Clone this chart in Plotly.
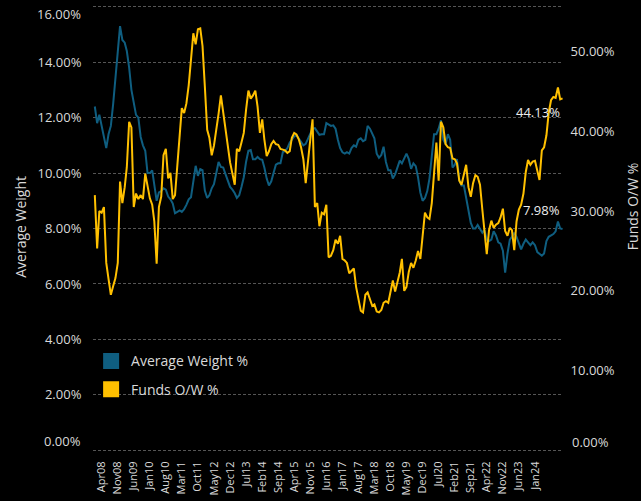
import pandas as pd
import plotly.graph_objects as go

# Monthly dates, Jan 2008 .. Jan 2025
dates = pd.date_range("2008-01-01", "2025-01-01", freq="MS")

avg_weight = [
    12.4, 11.8, 12.1, 11.7, 11.3, 10.9, 11.4, 11.7, 12.5, 13.5,
    14.4, 15.3, 14.8, 14.7, 14.4, 13.8, 13.0, 12.5, 12.1, 12.0,
    11.3, 11.0, 10.8, 10.0, 10.0, 10.1, 9.5, 9.0, 9.3, 9.35,
    9.45, 9.4, 9.15, 9.05, 8.9, 8.55, 8.6, 8.65, 8.6, 8.7,
    8.85, 9.05, 9.13, 9.7, 10.26, 9.9, 10.14, 10.1, 9.37, 9.1,
    9.2, 9.45, 9.6, 10.0, 10.4, 10.22, 10.2, 9.96, 9.7, 9.5,
    9.4, 9.27, 9.1, 9.2, 9.5, 9.85, 10.4, 10.8, 10.83, 10.5,
    10.5, 10.58, 10.5, 10.48, 10.2, 9.8, 9.55, 9.7, 10.0, 10.3,
    10.35, 10.35, 10.75, 10.8, 10.9, 11.1, 11.2, 11.32, 11.37, 11.25,
    11.1, 11.0, 11.05, 11.25, 11.45, 11.6, 11.62, 11.5, 11.38, 11.4,
    11.4, 11.8, 11.75, 11.7, 11.72, 11.6, 11.2, 10.9, 10.75, 10.7,
    10.75, 10.7, 10.9, 11.0, 10.95, 11.2, 11.25, 11.15, 11.2, 11.7,
    11.6, 11.4, 11.25, 10.7, 10.55, 10.65, 10.95, 10.4, 10.1, 10.1,
    9.8, 9.95, 10.25, 10.45, 10.35, 10.5, 10.7, 10.5, 10.15, 10.35,
    10.25, 9.85, 9.3, 9.0, 9.1, 9.35, 9.8, 10.6, 11.4, 11.4,
    11.6, 11.9, 11.2, 11.05, 11.4, 11.2, 10.2, 10.3, 10.5, 9.75,
    9.55, 9.55, 9.1, 8.6, 8.2, 8.0, 8.0, 8.13, 8.0, 7.85,
    7.95, 7.6, 7.55, 7.6, 7.9, 7.75, 7.5, 7.45, 7.2, 6.41,
    7.1, 7.6, 7.7, 7.85, 7.7, 7.5, 7.25, 7.45, 7.6, 7.5,
    7.4, 7.5, 7.4, 7.15, 7.1, 7.02, 7.1, 7.55, 7.7, 7.75,
    7.8, 7.9, 8.25, 8.0, 7.98,
]

funds_ow = [
    32.0, 25.3, 30.0, 29.8, 30.5, 23.5, 21.5, 19.5, 20.6, 21.6,
    23.5, 33.7, 31.0, 33.0, 35.5, 41.2, 40.5, 30.5, 32.2, 31.5,
    32.0, 31.5, 34.7, 33.0, 31.6, 30.8, 28.7, 23.4, 30.5, 31.8,
    37.0, 37.8, 34.1, 34.8, 31.5, 32.0, 35.7, 39.5, 42.9, 42.3,
    43.5, 45.8, 49.2, 52.3, 50.9, 52.8, 52.9, 50.7, 45.6, 40.2,
    39.2, 37.0, 38.2, 40.6, 42.2, 44.5, 42.3, 40.2, 37.8, 36.1,
    34.7, 33.3, 37.8, 37.5, 38.6, 39.8, 42.7, 45.1, 44.1, 44.5,
    45.1, 43.1, 39.8, 41.5, 39.0, 36.9, 37.5, 38.4, 38.8, 38.4,
    38.3, 37.8, 37.7, 37.6, 37.3, 37.5, 39.2, 39.8, 39.6, 39.0,
    38.0, 36.5, 33.5, 36.5, 39.0, 41.5, 30.5, 31.0, 28.1, 29.8,
    29.6, 30.8, 24.2, 24.4, 25.1, 26.4, 25.9, 26.9, 24.0, 23.8,
    23.5, 22.2, 22.5, 22.8, 20.5, 18.9, 17.5, 17.3, 19.5, 19.8,
    18.8, 18.1, 18.3, 17.4, 17.3, 17.6, 18.5, 18.7, 18.5, 20.0,
    21.3, 19.9, 21.2, 22.3, 24.0, 20.0, 20.5, 22.4, 23.5, 22.9,
    23.8, 25.0, 24.0, 27.0, 29.8, 29.2, 29.0, 31.0, 35.0, 38.6,
    33.8, 41.2, 40.5, 38.4, 38.0, 37.9, 36.6, 36.5, 36.0, 33.8,
    33.3, 34.4, 35.8, 33.0, 31.8, 33.5, 34.5, 34.3, 33.3, 30.2,
    27.5, 24.6, 27.6, 28.8, 27.9, 28.3, 28.5, 29.2, 30.3, 27.5,
    26.9, 27.9, 27.6, 25.1, 28.7, 30.2, 30.8, 32.2, 34.9, 36.4,
    35.8, 36.2, 36.3, 35.2, 33.9, 37.6, 38.0, 39.5, 42.3, 43.9,
    44.3, 44.2, 45.5, 44.0, 44.13,
]

tick_labels = [
    "Apr08", "Nov08", "Jun09", "Jan10", "Aug10", "Mar11", "Oct11", "May12",
    "Dec12", "Jul13", "Feb14", "Sep14", "Apr15", "Nov15", "Jun16", "Jan17",
    "Aug17", "Mar18", "Oct18", "May19", "Dec19", "Jul20", "Feb21", "Sep21",
    "Apr22", "Nov22", "Jun23", "Jan24",
]
tick_vals = list(dates[3::7])[: len(tick_labels)]

left_ticks = [0, 2, 4, 6, 8, 10, 12, 14, 16]
right_ticks = [0, 10, 20, 30, 40, 50]

BLUE = "#0F5E80"
GOLD = "#FFC000"
TXT = "#D9D9D9"
FONT = "Open Sans"


def pct(v):
    return f"{v:.2f}%"


fig = go.Figure()
fig.add_trace(go.Scatter(x=dates, y=avg_weight, mode="lines", name="Average Weight %",
                         line=dict(color=BLUE, width=2), yaxis="y", showlegend=False))
fig.add_trace(go.Scatter(x=dates, y=funds_ow, mode="lines", name="Funds O/W %",
                         line=dict(color=GOLD, width=2), yaxis="y2", showlegend=False))
# legend proxies (square swatches)
fig.add_trace(go.Scatter(x=[None], y=[None], mode="markers", name="Average Weight %",
                         marker=dict(symbol="square", size=16, color=BLUE),
                         legendgroup="a", showlegend=True))
fig.add_trace(go.Scatter(x=[None], y=[None], mode="markers", name="Funds O/W %",
                         marker=dict(symbol="square", size=16, color=GOLD),
                         legendgroup="b", showlegend=True))

# last-value labels
fig.add_annotation(x=dates[-1], y=avg_weight[-1], yref="y", xref="x",
                   text=pct(avg_weight[-1]), showarrow=False,
                   xanchor="right", yanchor="middle", xshift=-1, yshift=19,
                   font=dict(family=FONT, size=13, color="#EDEDED"))
fig.add_annotation(x=dates[-1], y=funds_ow[-1], yref="y2", xref="x",
                   text=pct(funds_ow[-1]), showarrow=False,
                   xanchor="right", yanchor="middle", xshift=-1, yshift=-14,
                   font=dict(family=FONT, size=13, color="#EDEDED"))

# edge tick labels sit slightly inside their gridlines
tick_font = dict(family=FONT, size=13, color=TXT)
fig.add_annotation(x=0, y=left_ticks[-1], xref="paper", yref="y", text=pct(left_ticks[-1]),
                   showarrow=False, xanchor="right", yanchor="middle",
                   xshift=-10, yshift=-7, font=tick_font)
fig.add_annotation(x=0, y=left_ticks[0], xref="paper", yref="y", text=pct(left_ticks[0]),
                   showarrow=False, xanchor="right", yanchor="middle",
                   xshift=-10, yshift=9, font=tick_font)
fig.add_annotation(x=1, y=right_ticks[0], xref="paper", yref="y2", text=pct(right_ticks[0]),
                   showarrow=False, xanchor="left", yanchor="middle",
                   xshift=7, yshift=8, font=tick_font)

# axis titles
fig.add_annotation(x=-0.153, y=0.504, xref="paper", yref="paper", text="Average Weight",
                   textangle=-90, showarrow=False, xanchor="center", yanchor="middle",
                   font=dict(family=FONT, size=14, color=TXT))
fig.add_annotation(x=1.147, y=0.548, xref="paper", yref="paper", text="Funds O/W %",
                   textangle=-90, showarrow=False, xanchor="center", yanchor="middle",
                   font=dict(family=FONT, size=14, color=TXT))

fig.update_layout(
    width=641, height=501,
    margin=dict(l=93, r=78, t=5, b=42),
    paper_bgcolor="black", plot_bgcolor="black",
    font=dict(family=FONT, size=13, color=TXT),
    xaxis=dict(
        type="date", range=["2007-12-08", "2025-01-07"],
        tickmode="array", tickvals=tick_vals, ticktext=tick_labels,
        tickangle=-90, tickfont=dict(size=11, color=TXT),
        showgrid=False, zeroline=False, showline=False,
        ticks="outside", ticklen=4, tickcolor="rgba(0,0,0,0)",
    ),
    yaxis=dict(
        range=[-0.06, 16.06], tickmode="array", tickvals=left_ticks,
        ticktext=[""] + [pct(v) for v in left_ticks[1:-1]] + [""],
        showgrid=True, gridcolor="#555555", griddash="3px,2px", gridwidth=1,
        zeroline=False, showline=False,
        ticks="outside", ticklen=8, tickcolor="rgba(0,0,0,0)",
        tickfont=tick_font,
    ),
    yaxis2=dict(
        range=[-0.21, 55.84], overlaying="y", side="right",
        tickmode="array", tickvals=right_ticks,
        ticktext=[""] + [pct(v) for v in right_ticks[1:]],
        showgrid=False, zeroline=False, showline=False,
        ticks="outside", ticklen=4, tickcolor="rgba(0,0,0,0)",
        tickfont=tick_font,
    ),
    legend=dict(
        x=-0.004, y=0.2386, xanchor="left", yanchor="top",
        bgcolor="rgba(0,0,0,0)", font=dict(family=FONT, size=14, color=TXT),
        traceorder="grouped", tracegroupgap=7,
    ),
    showlegend=True,
)

fig.write_html("out.html", config={"displayModeBar": False},
               post_script="document.body.style.margin='0px';document.body.style.overflow='hidden';")
